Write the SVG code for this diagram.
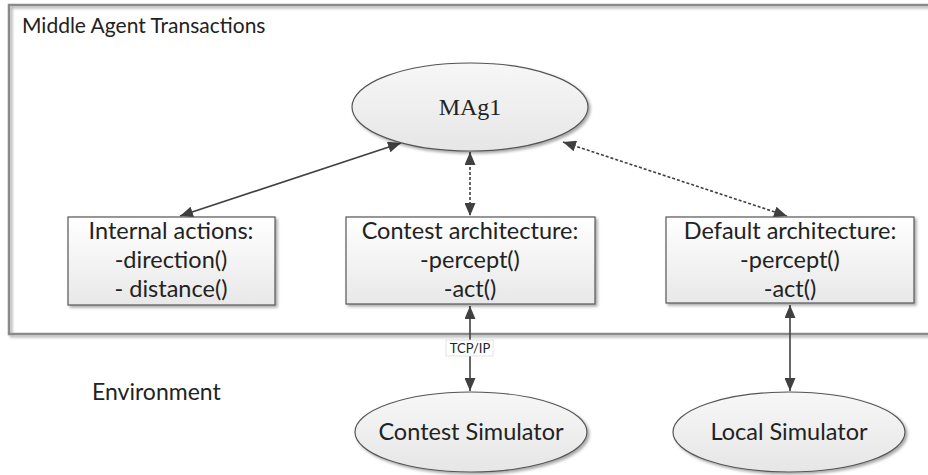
<svg xmlns="http://www.w3.org/2000/svg" width="928" height="475" viewBox="0 0 928 475">
  <defs>
    <linearGradient id="boxFill" x1="0" y1="0" x2="0" y2="1">
      <stop offset="0" stop-color="#ffffff"/>
      <stop offset="1" stop-color="#e8e8e8"/>
    </linearGradient>
    <linearGradient id="ellFill" x1="0" y1="0" x2="0" y2="1">
      <stop offset="0" stop-color="#f7f7f7"/>
      <stop offset="1" stop-color="#e6e6e6"/>
    </linearGradient>
    <filter id="shadow" x="-10%" y="-10%" width="125%" height="130%">
      <feGaussianBlur in="SourceAlpha" stdDeviation="1.5"/>
      <feOffset dx="2" dy="2" result="b"/>
      <feComponentTransfer><feFuncA type="linear" slope="0.35"/></feComponentTransfer>
      <feMerge><feMergeNode/><feMergeNode in="SourceGraphic"/></feMerge>
    </filter>
    <marker id="arrow" viewBox="0 0 13 11" refX="13" refY="5.5" markerWidth="13" markerHeight="11" markerUnits="userSpaceOnUse" orient="auto-start-reverse">
      <path d="M0,0 L13,5.5 L0,11 Z" fill="#404040"/>
    </marker>
  </defs>
  <style>
    .frame { fill: none; stroke: #8a8a8a; stroke-width: 2.5; }
    .box { fill: url(#boxFill); stroke: #555; stroke-width: 1.2; }
    .ell { fill: url(#ellFill); stroke: #555; stroke-width: 1.2; }
    .lbl { font-family: Lato, "Open Sans", sans-serif; font-size: 23.5px; fill: #222; text-anchor: middle; }
    .conn { stroke: #404040; stroke-width: 1.6; fill: none; marker-start: url(#arrow); marker-end: url(#arrow); }
    .dot { stroke-dasharray: 3 2; }
  </style>
  <rect width="928" height="475" fill="#ffffff"/>

  <!-- outer container -->
  <g id="container">
    <rect class="frame" x="9" y="5" width="930" height="329" filter="url(#shadow)"/>
    <text x="22" y="33" class="lbl" style="text-anchor:start;font-size:21px">Middle Agent Transactions</text>
  </g>

  <g id="connectors">
    <line class="conn" x1="180" y1="216" x2="401" y2="143"/>
    <line class="conn dot" x1="470" y1="152" x2="470" y2="216"/>
    <line class="conn dot" x1="563" y1="142" x2="787" y2="216"/>
    <line class="conn" x1="470" y1="306" x2="470" y2="391"/>
    <line class="conn" x1="790" y1="305" x2="790" y2="391"/>
    <rect x="446" y="340" width="47" height="16" fill="#ffffff" stroke="#ddd" stroke-width="0.8"/>
    <text x="470" y="353" class="lbl" style="font-size:13px">TCP/IP</text>
  </g>

  <g id="mag1">
    <ellipse class="ell" cx="470" cy="107" rx="118" ry="44" filter="url(#shadow)"/>
    <text x="470" y="115" text-anchor="middle" font-family="Liberation Serif, serif" font-size="24" fill="#222">MAg1</text>
  </g>

  <g id="internal-actions">
    <rect class="box" x="68" y="217" width="207" height="88" filter="url(#shadow)"/>
    <text x="171" y="239" class="lbl">Internal actions:</text>
    <text x="171" y="268" class="lbl">-direction()</text>
    <text x="171" y="297" class="lbl">- distance()</text>
  </g>

  <g id="contest-architecture">
    <rect class="box" x="346" y="217" width="249" height="87" filter="url(#shadow)"/>
    <text x="470" y="239" class="lbl">Contest architecture:</text>
    <text x="470" y="268" class="lbl">-percept()</text>
    <text x="470" y="297" class="lbl">-act()</text>
  </g>

  <g id="default-architecture">
    <rect class="box" x="666" y="217" width="248" height="86" filter="url(#shadow)"/>
    <text x="790" y="239" class="lbl">Default architecture:</text>
    <text x="790" y="268" class="lbl">-percept()</text>
    <text x="790" y="297" class="lbl">-act()</text>
  </g>

  <g id="environment">
    <text x="92" y="400" class="lbl" style="text-anchor:start;font-size:23px">Environment</text>
  </g>

  <g id="contest-simulator">
    <ellipse class="ell" cx="471" cy="432" rx="116" ry="40" filter="url(#shadow)"/>
    <text x="471" y="440" class="lbl">Contest Simulator</text>
  </g>

  <g id="local-simulator">
    <ellipse class="ell" cx="789" cy="432" rx="116" ry="40" filter="url(#shadow)"/>
    <text x="789" y="440" class="lbl">Local Simulator</text>
  </g>
</svg>
